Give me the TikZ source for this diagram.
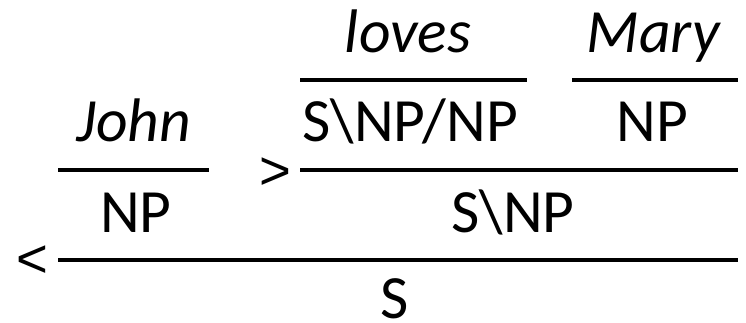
\documentclass[tikz,border=0pt]{standalone}
\usepackage{fontspec}
\setmainfont{Carlito}
\newfontfamily\combfont{Liberation Sans}
\usetikzlibrary{positioning}

\begin{document}
\begin{tikzpicture}[x=0.02cm, y=-0.02cm,
    word/.style={anchor=base, inner sep=0pt, font=\fontsize{35}{40}\selectfont\itshape},
    cat/.style={anchor=base, inner sep=0pt, font=\fontsize{35}{40}\selectfont},
    comb/.style={anchor=center, inner sep=0pt, font=\combfont\fontsize{31}{36}\selectfont},
    rule/.style={line width=2.8pt}]
    \useasboundingbox (0,0) rectangle (746,323);
    % words
    \node[word] (john) at (134,142) {John};
    \node[word] (loves) at (408,53) {loves};
    \node[word] (mary) at (653,53) {Mary};
    % lexical categories
    \node[cat] (np1) at (136,233) {NP};
    \node[cat] (tv) at (410,142) {S\textbackslash NP/NP};
    \node[cat] (np2) at (652,142) {NP};
    % derived categories
    \node[cat] (vp) at (513,233) {S\textbackslash NP};
    \node[cat] (s) at (395,318) {S};
    % rule lines
    \coordinate (l1a) at (58,170);  \coordinate (l1b) at (209,170);
    \coordinate (l2a) at (300,80);  \coordinate (l2b) at (527,80);
    \coordinate (l3a) at (572,80);  \coordinate (l3b) at (738,80);
    \coordinate (l4a) at (300,170); \coordinate (l4b) at (738,170);
    \coordinate (l5a) at (58,260);  \coordinate (l5b) at (738,260);
    \draw[rule] (l1a) -- (l1b);
    \draw[rule] (l2a) -- (l2b);
    \draw[rule] (l3a) -- (l3b);
    \draw[rule] (l4a) -- (l4b);
    \draw[rule] (l5a) -- (l5b);
    % combinators
    \node[comb] (fwd) at (275,174) {>};
    \node[comb] (bwd) at (32,262) {<};
\end{tikzpicture}
\end{document}
